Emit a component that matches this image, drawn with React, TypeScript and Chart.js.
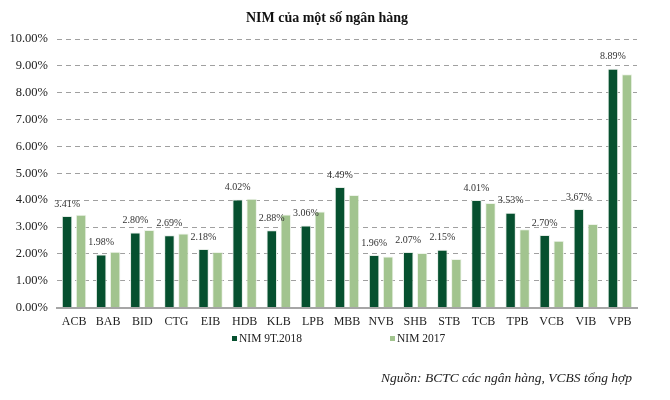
import React, { useEffect, useRef } from "react";
import { Chart, registerables } from "chart.js";

Chart.register(...registerables);

const categories = ["ACB", "BAB", "BID", "CTG", "EIB", "HDB", "KLB", "LPB", "MBB", "NVB", "SHB", "STB", "TCB", "TPB", "VCB", "VIB", "VPB"];
const nim2018 = [3.41, 1.98, 2.8, 2.69, 2.18, 4.02, 2.88, 3.06, 4.49, 1.96, 2.07, 2.15, 4.01, 3.53, 2.7, 3.67, 8.89];
const nim2017 = [3.46, 2.08, 2.89, 2.76, 2.07, 4.05, 3.47, 3.58, 4.19, 1.9, 2.03, 1.81, 3.89, 2.92, 2.49, 3.11, 8.69];
const seriesNames = ["NIM 9T.2018", "NIM 2017"];
const seriesColors = ["#06502F", "#A2C48F"];
const titleText = "NIM của một số ngân hàng";
const sourceText = "Nguồn: BCTC các ngân hàng, VCBS tổng hợp";

const FONT = "'Liberation Serif', 'Times New Roman', serif";

const textPlugin = {
  id: "customText",
  afterDatasetsDraw(chart: any) {
    const ctx = chart.ctx;
    const meta = chart.getDatasetMeta(0);
    ctx.save();
    ctx.font = `10px ${FONT}`;
    ctx.fillStyle = "#333333";
    ctx.textAlign = "center";
    ctx.textBaseline = "middle";
    meta.data.forEach((el: any, i: number) => {
      ctx.fillText(nim2018[i].toFixed(2) + "%", el.x, el.y - 12);
    });
    ctx.restore();
  },
  afterDraw(chart: any) {
    const ctx = chart.ctx;
    ctx.save();
    // title
    ctx.font = `bold 14px ${FONT}`;
    ctx.fillStyle = "#111";
    ctx.textAlign = "center";
    ctx.textBaseline = "middle";
    ctx.fillText(titleText, 327, 18);
    // legend
    ctx.font = `11.5px ${FONT}`;
    ctx.textAlign = "left";
    const legendX = [232, 390];
    seriesNames.forEach((name, i) => {
      ctx.fillStyle = seriesColors[i];
      ctx.fillRect(legendX[i], 336, 5, 5);
      ctx.fillStyle = "#222";
      ctx.fillText(name, legendX[i] + 7, 338.5);
    });
    // source
    ctx.font = `italic 13.5px ${FONT}`;
    ctx.textAlign = "right";
    ctx.fillStyle = "#222";
    ctx.fillText(sourceText, 632, 378);
    ctx.restore();
  },
};

export default function App() {
  const ref = useRef<HTMLCanvasElement>(null);
  useEffect(() => {
    if (!ref.current) return;
    const chart = new Chart(ref.current, {
      type: "bar",
      data: {
        labels: categories,
        datasets: [
          {
            label: seriesNames[0],
            data: nim2018,
            backgroundColor: seriesColors[0],
            borderColor: "#E4ECE6",
            borderWidth: 1,
            categoryPercentage: 0.82,
            barPercentage: 0.75,
          },
          {
            label: seriesNames[1],
            data: nim2017,
            backgroundColor: seriesColors[1],
            borderColor: "#EEF4EA",
            borderWidth: 1,
            categoryPercentage: 0.82,
            barPercentage: 0.75,
          },
        ],
      },
      options: {
        animation: false,
        responsive: false,
        maintainAspectRatio: false,
        layout: { padding: { left: 0, right: 33, top: 39, bottom: 64 } },
        plugins: {
          title: { display: false },
          legend: { display: false },
          tooltip: { enabled: false },
        },
        scales: {
          x: {
            grid: { display: false, drawTicks: false },
            border: { display: true, color: "#A6A6A6", width: 2 },
            ticks: { color: "#222", font: { family: FONT, size: 12 }, padding: 7 },
          },
          y: {
            min: 0,
            max: 10,
            afterFit: (s: any) => {
              s.width = 57;
            },
            ticks: {
              stepSize: 1,
              color: "#222",
              font: { family: FONT, size: 12.5 },
              padding: 9,
              callback: (v: any) => Number(v).toFixed(2) + "%",
            },
            grid: { color: "#A0A0A0", drawTicks: false, lineWidth: 1 },
            border: { display: false, dash: [5, 4] },
          },
        },
      },
      plugins: [textPlugin],
    });
    return () => chart.destroy();
  }, []);
  return (
    <div style={{ position: "fixed", left: 0, top: 0, width: 670, height: 400, background: "#fff" }}>
      <canvas ref={ref} width={670} height={400} />
    </div>
  );
}
